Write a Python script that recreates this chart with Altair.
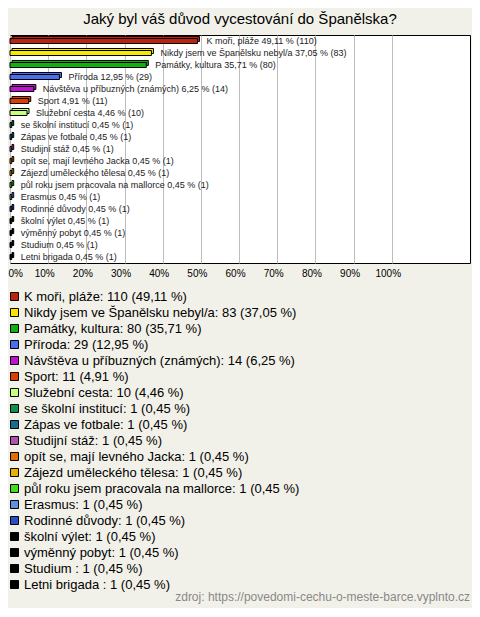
import altair as alt
import pandas as pd

names = ["K moři, pláže", "Nikdy jsem ve Španělsku nebyl/a", "Památky, kultura", "Příroda",
         "Návštěva u příbuzných (známých)", "Sport", "Služební cesta", "se školní institucí",
         "Zápas ve fotbale", "Studijní stáž", "opít se, mají levného Jacka",
         "Zájezd uměleckého tělesa", "půl roku jsem pracovala na mallorce", "Erasmus",
         "Rodinné důvody", "školní výlet", "výměnný pobyt", "Studium ", "Letni brigada "]
counts = [110, 83, 80, 29, 14, 11, 10, 1, 1, 1, 1, 1, 1, 1, 1, 1, 1, 1, 1]
pcts = [49.11, 37.05, 35.71, 12.95, 6.25, 4.91, 4.46, 0.45, 0.45, 0.45, 0.45, 0.45,
        0.45, 0.45, 0.45, 0.45, 0.45, 0.45, 0.45]
colors = ["#C0200E", "#F8E800", "#10B010", "#4A6EF0", "#C010D0", "#E03C00", "#C8FF80",
          "#109050", "#107090", "#B050B0", "#E07000", "#E8B000", "#40E020", "#6090E0",
          "#2850C0", "#000000", "#000000", "#000000", "#000000"]
ticks = [0, 10, 20, 30, 40, 50, 60, 70, 80, 90, 100]


def cz(v):
    return f"{v:.2f}".replace(".", ",")


df = pd.DataFrame({
    "name": names,
    "count": counts,
    "pct": pcts,
    "legend": [f"{n}: {c} ({cz(p)} %)" for n, c, p in zip(names, counts, pcts)],
    "label": [f"{n} {cz(p)} % ({c})" for n, c, p in zip(names, counts, pcts)],
})

legend_order = list(df["legend"])

x_enc = alt.X("pct:Q", scale=alt.Scale(domain=[0, 120.5], nice=False, zero=True),
              axis=alt.Axis(values=ticks, labelExpr="datum.value + '%'", grid=True,
                            gridColor="#BDBDBD", gridWidth=1, domain=False, ticks=False,
                            labelFontSize=10, labelColor="#000", labelPadding=5,
                            labelFont="Liberation Sans", labelOffset=-4, labelFlush=True,
                            labelFlushOffset=-2, title=None))
y_enc = alt.Y("name:N", sort=names, axis=None, scale=alt.Scale(paddingInner=0, paddingOuter=0))
color_enc = alt.Color("legend:N", sort=legend_order,
                      scale=alt.Scale(domain=legend_order, range=colors),
                      legend=alt.Legend(orient="none", legendX=-2, legendY=255, title=None,
                                        symbolType="square", symbolSize=64,
                                        symbolStrokeColor="#000", symbolStrokeWidth=1,
                                        labelFontSize=13, labelFont="Liberation Sans",
                                        labelColor="#000", labelLimit=480, rowPadding=2,
                                        labelOffset=3, columns=1, direction="vertical"))

base = alt.Chart(df)

shadow = base.mark_bar(size=5, stroke="#000", strokeWidth=1, xOffset=2, x2Offset=2,
                       yOffset=-2, y2Offset=-2).encode(x=x_enc, y=y_enc, color=color_enc)
front = base.mark_bar(size=5, stroke="#000", strokeWidth=1).encode(x=x_enc, y=y_enc, color=color_enc)
labels = base.mark_text(align="left", baseline="middle", dx=9, fontSize=9,
                        font="Liberation Sans", color="#222").encode(
    x="pct:Q", y=alt.Y("name:N", sort=names), text="label:N")

source = alt.Chart(pd.DataFrame({"t": ["zdroj: https://povedomi-cechu-o-meste-barce.vyplnto.cz"]})).mark_text(
    align="right", baseline="middle", fontSize=12, font="Liberation Sans", color="#888"
).encode(x=alt.value(460), y=alt.value(562), text="t:N")

chart = alt.layer(shadow, front, labels, source).properties(
    width=460, height=228,
    title=alt.TitleParams("Jaký byl váš důvod vycestování do Španělska?", fontSize=15,
                          font="Liberation Sans", fontWeight="normal", color="#000",
                          anchor="middle", offset=8),
    autosize=alt.AutoSizeParams(type="none"),
    padding={"left": 2, "top": 27, "right": 2, "bottom": 345},
    background="#F2F1E9",
).configure_view(fill="#FFFFFF", stroke="#000", strokeWidth=1)

chart.save("out.html", embed_options={"renderer": "svg", "actions": False})
